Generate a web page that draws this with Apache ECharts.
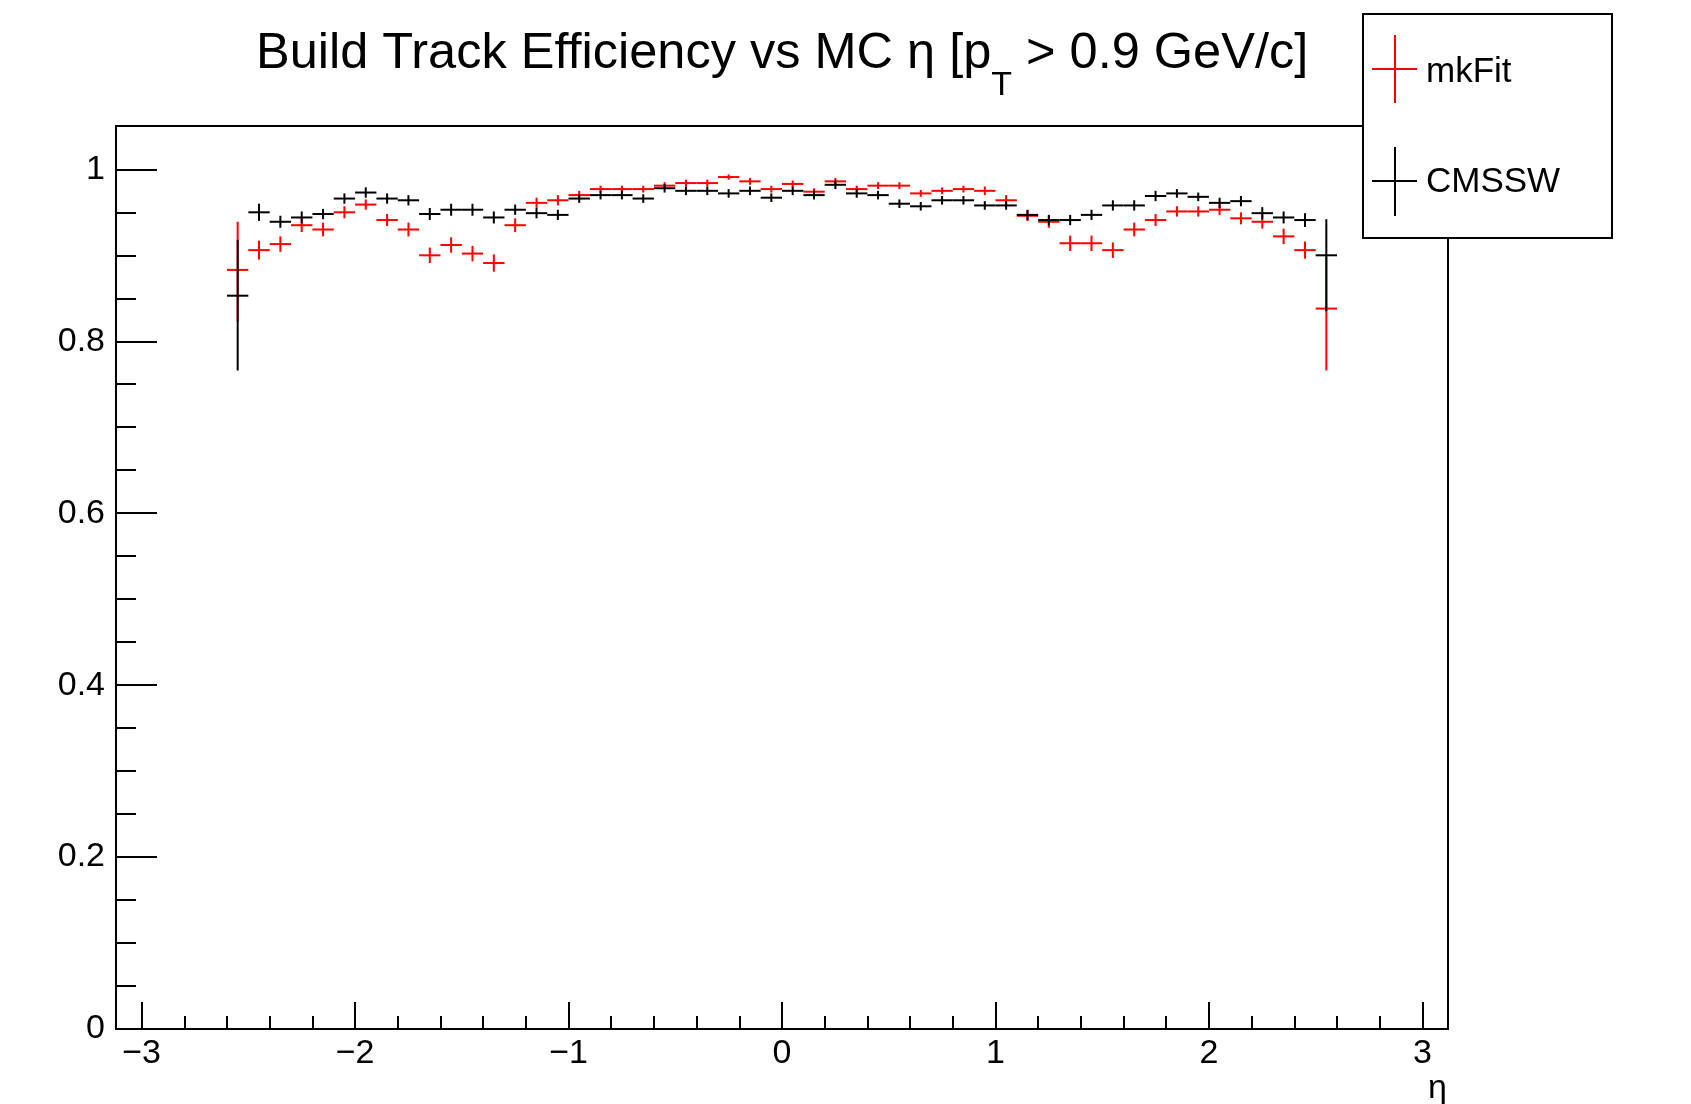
<!DOCTYPE html>
<html>
<head>
<meta charset="utf-8">
<script src="https://cdn.jsdelivr.net/npm/echarts@6/dist/echarts.min.js"></script>
<style>
  html, body { margin: 0; padding: 0; background: #fff; }
  #main { width: 1691px; height: 1104px; }
</style>
</head>
<body>
<div id="main"></div>
<script>
// bin centres in eta (bin width 0.1)
const etaBins = [-2.55, -2.45, -2.35, -2.25, -2.15, -2.05, -1.95, -1.85, -1.75, -1.65,
  -1.55, -1.45, -1.35, -1.25, -1.15, -1.05, -0.95, -0.85, -0.75, -0.65,
  -0.55, -0.45, -0.35, -0.25, -0.15, -0.05, 0.05, 0.15, 0.25, 0.35,
  0.45, 0.55, 0.65, 0.75, 0.85, 0.95, 1.05, 1.15, 1.25, 1.35,
  1.45, 1.55, 1.65, 1.75, 1.85, 1.95, 2.05, 2.15, 2.25, 2.35,
  2.45, 2.55];

const mkFitEff = [0.883, 0.906, 0.913, 0.935, 0.930, 0.950, 0.959, 0.941, 0.930, 0.900,
  0.912, 0.902, 0.891, 0.935, 0.961, 0.964, 0.970, 0.977, 0.977, 0.977,
  0.981, 0.984, 0.984, 0.991, 0.986, 0.977, 0.983, 0.974, 0.986, 0.977,
  0.981, 0.981, 0.972, 0.975, 0.977, 0.975, 0.964, 0.946, 0.939, 0.914,
  0.914, 0.906, 0.930, 0.941, 0.951, 0.951, 0.953, 0.943, 0.939, 0.922,
  0.906, 0.838];
const mkFitErrLo = [0.060, 0.011, 0.009, 0.008, 0.008, 0.007, 0.006, 0.007, 0.008, 0.009,
  0.009, 0.009, 0.010, 0.008, 0.006, 0.006, 0.005, 0.004, 0.004, 0.004,
  0.004, 0.004, 0.004, 0.003, 0.004, 0.004, 0.004, 0.004, 0.004, 0.004,
  0.004, 0.004, 0.004, 0.004, 0.004, 0.005, 0.006, 0.006, 0.007, 0.009,
  0.009, 0.009, 0.008, 0.007, 0.006, 0.006, 0.006, 0.007, 0.008, 0.009,
  0.010, 0.072];
const mkFitErrHi = [0.056, 0.011, 0.009, 0.008, 0.008, 0.007, 0.006, 0.007, 0.008, 0.009,
  0.009, 0.009, 0.010, 0.008, 0.006, 0.006, 0.005, 0.004, 0.004, 0.004,
  0.004, 0.004, 0.004, 0.003, 0.004, 0.004, 0.004, 0.004, 0.004, 0.004,
  0.004, 0.004, 0.004, 0.004, 0.004, 0.005, 0.006, 0.006, 0.007, 0.009,
  0.009, 0.009, 0.008, 0.007, 0.006, 0.006, 0.006, 0.007, 0.008, 0.009,
  0.010, 0.060];

const cmsswEff = [0.853, 0.950, 0.939, 0.944, 0.948, 0.966, 0.973, 0.966, 0.964, 0.948,
  0.953, 0.953, 0.944, 0.953, 0.949, 0.947, 0.966, 0.970, 0.970, 0.966,
  0.978, 0.975, 0.975, 0.972, 0.975, 0.967, 0.975, 0.970, 0.982, 0.972,
  0.970, 0.960, 0.957, 0.964, 0.964, 0.958, 0.958, 0.947, 0.941, 0.941,
  0.947, 0.958, 0.958, 0.969, 0.972, 0.968, 0.961, 0.963, 0.949, 0.944,
  0.941, 0.900];
const cmsswErrLo = [0.087, 0.010, 0.007, 0.007, 0.006, 0.006, 0.006, 0.006, 0.006, 0.007,
  0.007, 0.007, 0.007, 0.006, 0.006, 0.006, 0.005, 0.005, 0.005, 0.005,
  0.005, 0.005, 0.005, 0.005, 0.005, 0.005, 0.005, 0.005, 0.005, 0.005,
  0.005, 0.005, 0.005, 0.005, 0.005, 0.005, 0.005, 0.006, 0.006, 0.006,
  0.006, 0.006, 0.006, 0.006, 0.005, 0.005, 0.006, 0.006, 0.007, 0.007,
  0.008, 0.065];
const cmsswErrHi = [0.065, 0.010, 0.007, 0.007, 0.006, 0.006, 0.006, 0.006, 0.006, 0.007,
  0.007, 0.007, 0.007, 0.006, 0.006, 0.006, 0.005, 0.005, 0.005, 0.005,
  0.005, 0.005, 0.005, 0.005, 0.005, 0.005, 0.005, 0.005, 0.005, 0.005,
  0.005, 0.005, 0.005, 0.005, 0.005, 0.005, 0.005, 0.006, 0.006, 0.006,
  0.006, 0.006, 0.006, 0.006, 0.005, 0.005, 0.006, 0.006, 0.007, 0.007,
  0.008, 0.042];

// axis ticks
const xMajorTicks = [-3, -2, -1, 0, 1, 2, 3];
const xMinorTicks = [-2.8, -2.6, -2.4, -2.2, -1.8, -1.6, -1.4, -1.2, -0.8, -0.6, -0.4, -0.2,
  0.2, 0.4, 0.6, 0.8, 1.2, 1.4, 1.6, 1.8, 2.2, 2.4, 2.6, 2.8];
const yMajorTicks = [0, 0.2, 0.4, 0.6, 0.8, 1];
const yMinorTicks = [0.05, 0.1, 0.15, 0.25, 0.3, 0.35, 0.45, 0.5, 0.55, 0.65, 0.7, 0.75,
  0.85, 0.9, 0.95];

const binWidth = 0.1;
const font = "'Liberation Sans', Arial, Helvetica, sans-serif";

const chart = echarts.init(document.getElementById('main'));

// draws one ROOT-style point: horizontal bin bar + vertical error bar
function crossRenderer(color) {
  return function (params, api) {
    const x = api.value(0), y = api.value(1), lo = api.value(2), hi = api.value(3);
    const a = api.coord([x - binWidth / 2, y]);
    const b = api.coord([x + binWidth / 2, y]);
    const c = api.coord([x, y - lo]);
    const d = api.coord([x, y + hi]);
    return {
      type: 'group',
      children: [
        { type: 'line', shape: { x1: a[0], y1: a[1], x2: b[0], y2: b[1] }, style: { stroke: color, lineWidth: 2 } },
        { type: 'line', shape: { x1: c[0], y1: c[1], x2: d[0], y2: d[1] }, style: { stroke: color, lineWidth: 2 } }
      ]
    };
  };
}

const mkFitData = etaBins.map((x, i) => [x, mkFitEff[i], mkFitErrLo[i], mkFitErrHi[i]]);
const cmsswData = etaBins.map((x, i) => [x, cmsswEff[i], cmsswErrLo[i], cmsswErrHi[i]]);

const option = {
  backgroundColor: '#fff',
  animation: false,
  title: {
    left: 256,
    top: 29,
    padding: 0,
    text: '{m|Build Track Efficiency vs MC η [p}{s|T}{m| > 0.9 GeV/c]}',
    textStyle: {
      fontWeight: 'normal',
      rich: {
        m: { fontSize: 50.5, fontFamily: font, fontWeight: 'normal', color: '#000', lineHeight: 51, verticalAlign: 'top' },
        s: { fontSize: 34, fontFamily: font, fontWeight: 'normal', color: '#000', lineHeight: 74, verticalAlign: 'bottom' }
      }
    }
  },
  grid: {
    left: 116,
    top: 126,
    right: 243,
    bottom: 75,
    show: true,
    borderColor: '#000',
    borderWidth: 2,
    backgroundColor: '#fff',
    outerBoundsMode: 'none'
  },
  xAxis: [
    {
      type: 'value',
      min: -3.12,
      max: 3.12,
      position: 'bottom',
      axisLine: { show: true, onZero: false, lineStyle: { color: '#000', width: 2 } },
      axisTick: { show: true, inside: true, length: 27, customValues: xMajorTicks, lineStyle: { color: '#000', width: 2 } },
      axisLabel: {
        customValues: xMajorTicks,
        formatter: v => (v < 0 ? '\u2212' + Math.abs(v) : String(v)),
        fontSize: 34,
        fontFamily: font,
        color: '#000',
        margin: 8
      },
      splitLine: { show: false }
    },
    {
      type: 'value',
      min: -3.12,
      max: 3.12,
      position: 'bottom',
      axisLine: { show: false, onZero: false },
      axisTick: { show: true, inside: true, length: 13, customValues: xMinorTicks, lineStyle: { color: '#000', width: 2 } },
      axisLabel: { show: false },
      splitLine: { show: false }
    }
  ],
  yAxis: [
    {
      type: 'value',
      min: 0,
      max: 1.0504,
      position: 'left',
      axisLine: { show: true, onZero: false, lineStyle: { color: '#000', width: 2 } },
      axisTick: { show: true, inside: true, length: 41, customValues: yMajorTicks, lineStyle: { color: '#000', width: 2 } },
      axisLabel: {
        customValues: yMajorTicks,
        fontSize: 34,
        fontFamily: font,
        color: '#000',
        margin: 11
      },
      splitLine: { show: false }
    },
    {
      type: 'value',
      min: 0,
      max: 1.0504,
      position: 'left',
      axisLine: { show: false, onZero: false },
      axisTick: { show: true, inside: true, length: 20, customValues: yMinorTicks, lineStyle: { color: '#000', width: 2 } },
      axisLabel: { show: false },
      splitLine: { show: false }
    }
  ],
  series: [
    {
      name: 'mkFit',
      type: 'custom',
      xAxisIndex: 0,
      yAxisIndex: 0,
      data: mkFitData,
      encode: { x: 0, y: 1 },
      renderItem: crossRenderer('#ff0000'),
      z: 2
    },
    {
      name: 'CMSSW',
      type: 'custom',
      xAxisIndex: 0,
      yAxisIndex: 0,
      data: cmsswData,
      encode: { x: 0, y: 1 },
      renderItem: crossRenderer('#000000'),
      z: 3
    }
  ],
  graphic: [
    {
      type: 'text',
      right: 1691 - 1447,
      top: 1072,
      style: { text: 'η', fontSize: 34, fontFamily: font, fill: '#000' }
    },
    {
      type: 'group',
      z: 100,
      children: [
        { type: 'rect', shape: { x: 1363, y: 14, width: 249, height: 224 }, style: { fill: '#fff', stroke: '#000', lineWidth: 2 } },
        { type: 'line', shape: { x1: 1372, y1: 69, x2: 1417, y2: 69 }, style: { stroke: '#ff0000', lineWidth: 2 } },
        { type: 'line', shape: { x1: 1395, y1: 35, x2: 1395, y2: 103 }, style: { stroke: '#ff0000', lineWidth: 2 } },
        { type: 'text', x: 1426, y: 72, style: { text: 'mkFit', fontSize: 35, fontFamily: font, fill: '#000', verticalAlign: 'middle' } },
        { type: 'line', shape: { x1: 1372, y1: 181, x2: 1417, y2: 181 }, style: { stroke: '#000', lineWidth: 2 } },
        { type: 'line', shape: { x1: 1395, y1: 147, x2: 1395, y2: 216 }, style: { stroke: '#000', lineWidth: 2 } },
        { type: 'text', x: 1426, y: 182, style: { text: 'CMSSW', fontSize: 35, fontFamily: font, fill: '#000', verticalAlign: 'middle' } }
      ]
    }
  ]
};

chart.setOption(option);
</script>
</body>
</html>
